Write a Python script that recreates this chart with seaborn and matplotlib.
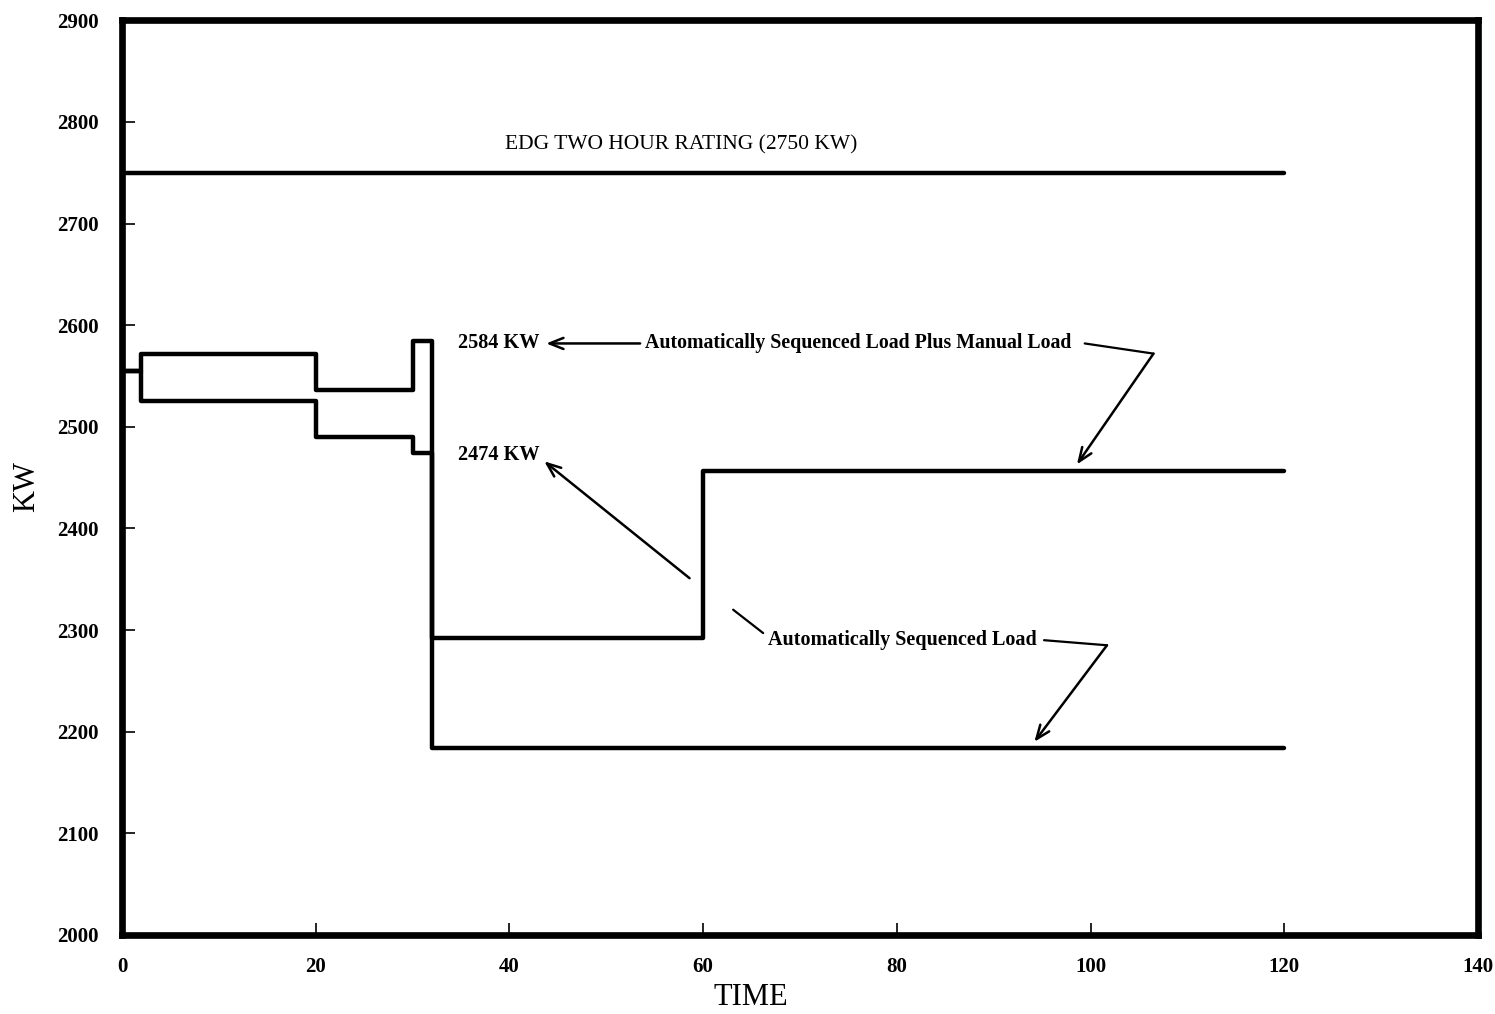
import pandas as pd
import matplotlib
matplotlib.use("Agg")
import matplotlib.pyplot as plt
import seaborn as sns

# step series (time, kW); values hold until the next time
plus_manual_time = [0, 2, 20, 30, 32, 60, 120]
plus_manual_kw = [2555, 2572, 2536, 2584, 2292, 2456, 2456]
auto_time = [0, 2, 20, 30, 32, 120]
auto_kw = [2555, 2525, 2490, 2474, 2184, 2184]
rating_time = [0, 120]
rating_kw = [2750, 2750]

x_ticks = [0, 20, 40, 60, 80, 100, 120, 140]
y_ticks = [2000, 2100, 2200, 2300, 2400, 2500, 2600, 2700, 2800, 2900]

sns.set_style("ticks")
plt.rcParams["font.family"] = ["Liberation Serif", "DejaVu Serif"]
for key in ["axes.edgecolor", "text.color", "axes.labelcolor", "xtick.color", "ytick.color"]:
    plt.rcParams[key] = "black"

df = pd.concat([
    pd.DataFrame({"time": plus_manual_time, "kw": plus_manual_kw, "series": "plus_manual"}),
    pd.DataFrame({"time": auto_time, "kw": auto_kw, "series": "auto"}),
    pd.DataFrame({"time": rating_time, "kw": rating_kw, "series": "rating"}),
])

fig = plt.figure(figsize=(14.95, 10.14), dpi=100)
ax = fig.add_axes([0.0816, 0.078, 0.9070, 0.902])

for name, grp in df.groupby("series", sort=False):
    sns.lineplot(data=grp, x="time", y="kw", ax=ax, color="black", linewidth=3.2,
                 drawstyle="steps-post", estimator=None, sort=False, legend=False)

ax.set_xlim(0, 140)
ax.set_ylim(2000, 2900)
ax.set_xticks(x_ticks)
ax.set_yticks(y_ticks)
ax.tick_params(direction="in", length=9, width=1.2, top=False, right=False)
ax.tick_params(axis="y", pad=17)
ax.tick_params(axis="x", pad=16)
for lab in ax.get_xticklabels() + ax.get_yticklabels():
    lab.set_fontsize(15)
    lab.set_fontweight("bold")
for sp in ax.spines.values():
    sp.set_visible(True)
    sp.set_linewidth(4.8)

ax.set_xlabel("TIME", fontsize=22, va="center")
ax.xaxis.set_label_coords(0.464, -0.068)
ax.set_ylabel("KW", fontsize=22, va="center")
ax.yaxis.set_label_coords(-0.0705, 0.49)

# annotations
ax.text(39.5, 2777, "EDG TWO HOUR RATING (2750 KW)", fontsize=15.5, va="center", ha="left")
ax.text(34.7, 2582, "2584 KW", fontsize=14.6, fontweight="bold", va="center", ha="left")
ax.text(54.0, 2582, "Automatically Sequenced Load Plus Manual Load", fontsize=14.3,
        fontweight="bold", va="center", ha="left")
ax.text(34.7, 2472, "2474 KW", fontsize=14.6, fontweight="bold", va="center", ha="left")
ax.text(66.7, 2290, "Automatically Sequenced Load", fontsize=14.5,
        fontweight="bold", va="center", ha="left")

arrow = dict(arrowstyle="->,head_length=1.0,head_width=0.4", color="black", lw=1.8,
             shrinkA=0, shrinkB=0)
ax.annotate("", xy=(43.8, 2582), xytext=(53.5, 2582), arrowprops=arrow)
ax.annotate("", xy=(43.6, 2466), xytext=(58.6, 2351), arrowprops=arrow)
ax.annotate("", xy=(98.6, 2463), xytext=(106.5, 2572), arrowprops=arrow)
ax.annotate("", xy=(94.2, 2190), xytext=(101.7, 2285), arrowprops=arrow)

ax.plot([99.4, 106.5], [2582, 2572], color="black", lw=1.6)
ax.plot([95.2, 101.7], [2290, 2285], color="black", lw=1.6)
ax.plot([63.1, 66.2], [2320, 2297], color="black", lw=1.6)

fig.savefig("out.png", dpi=100)
